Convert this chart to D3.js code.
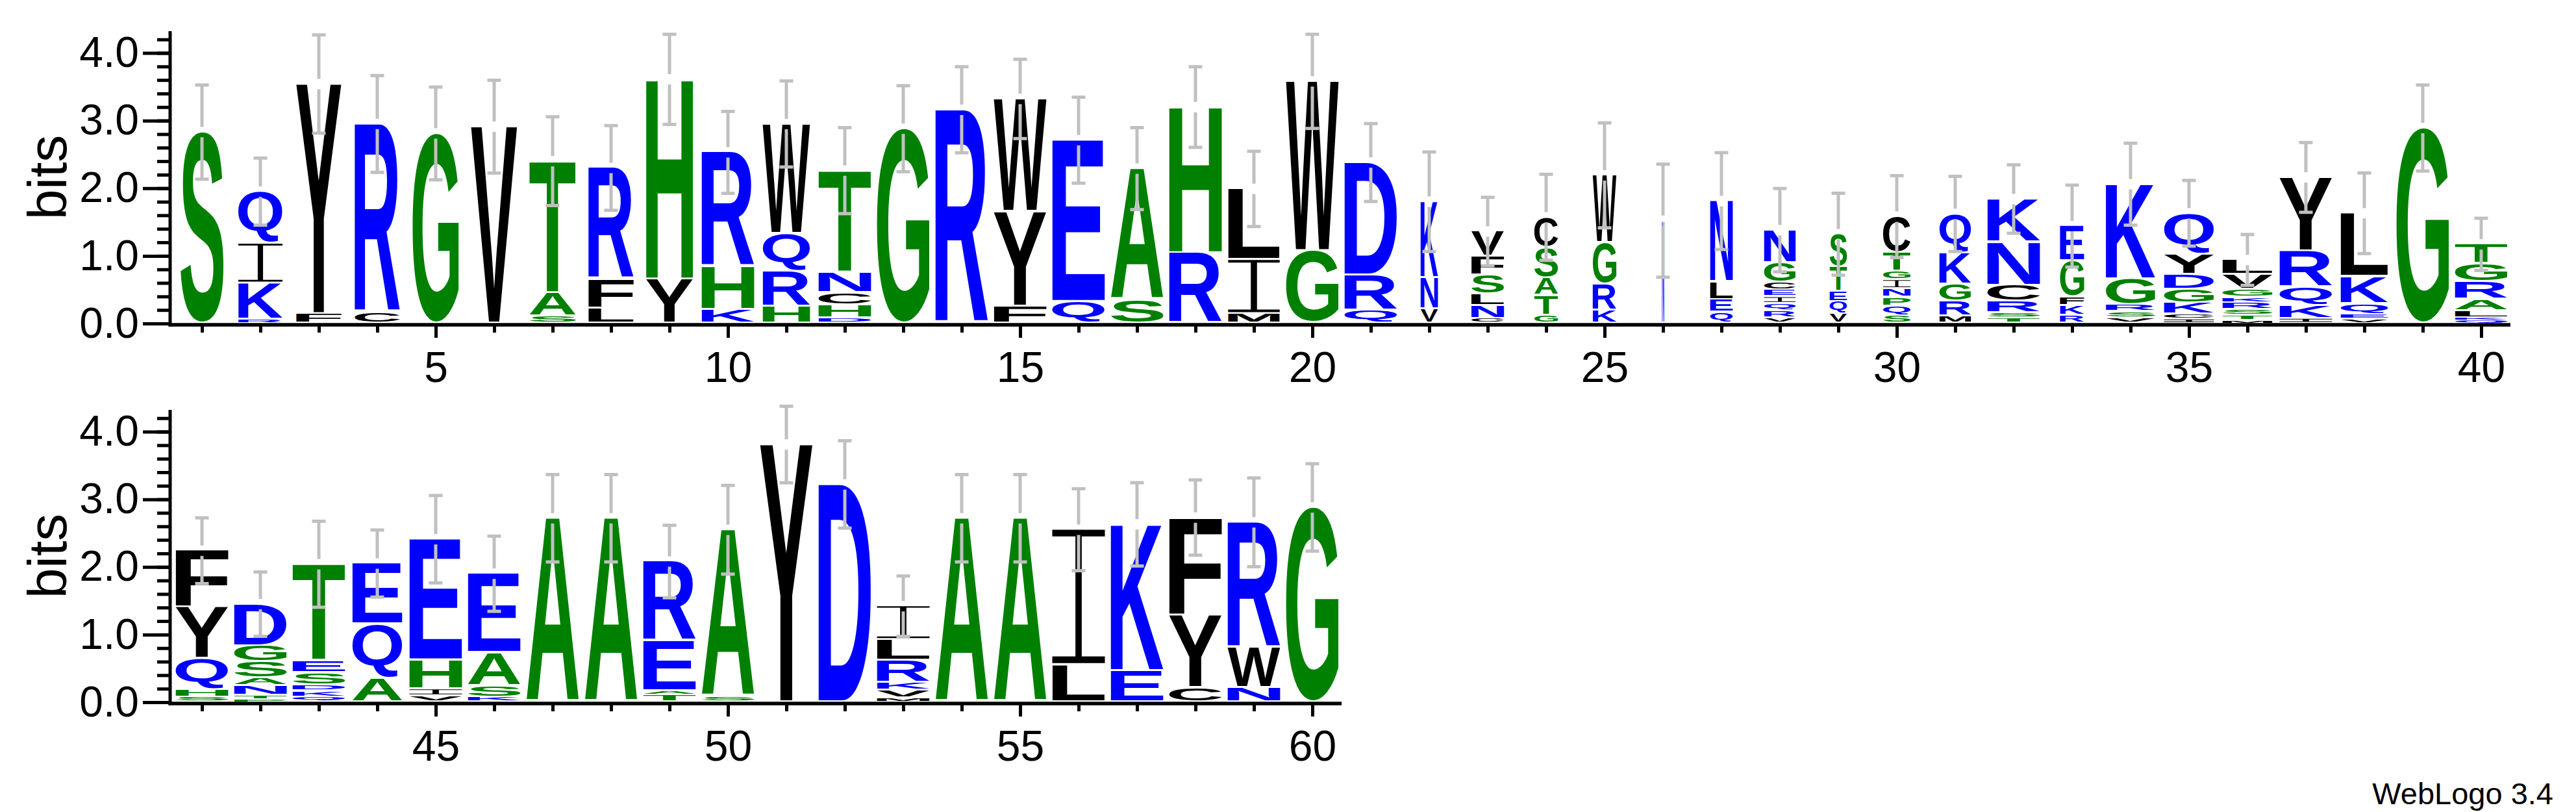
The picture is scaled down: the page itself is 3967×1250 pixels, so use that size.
<!DOCTYPE html>
<html>
<head>
<meta charset="utf-8">
<script src="https://cdn.jsdelivr.net/npm/d3@7"></script>
<style>
  body { margin: 0; background: #fff; }
</style>
</head>
<body>
<script>
// residues in each column, bottom to top
const columnLetters = [
  'S', 'RKIQ', 'FY', 'CR', 'G', 'V', 'SAT', 'LFR', 'YH', 'KHR',
  'HRQW', 'DHCNT', 'G', 'R', 'FYW', 'QE', 'SA', 'RH', 'MIL', 'GW',
  'QRD', 'VNK', 'CNLSFV', 'GTASC', 'KRGW', 'N', 'QELN', 'VRQIECGN', 'VQETS', 'SQPNIGTC',
  'MRGKQ', 'TSRCNK', 'RKFGE', 'VSRGK', 'ICKGDYQ', 'MTSRKGVL', 'IKQRY', 'VEQKL', 'G', 'QKLARGT',
  'SHQYF', 'PTNASGD', 'QKDSET', 'AQE', 'VIHE', 'KSAE', 'A', 'A', 'TAER', 'SA',
  'Y', 'D', 'MVKRLI', 'A', 'A', 'LI', 'EK', 'CYF', 'NWR', 'G',
];

// bits of each residue, same order
const columnBits = [
  [2.83], [0.06, 0.53, 0.59, 0.77], [0.14, 3.4], [0.16, 2.79], [2.81],
  [2.91], [0.1, 0.35, 1.95], [0.22, 0.43, 1.65], [0.65, 2.96], [0.2, 0.63, 1.7],
  [0.25, 0.52, 0.56, 1.62], [0.08, 0.19, 0.18, 0.3, 1.51], [2.88], [3.16], [0.25, 1.4, 1.67],
  [0.32, 2.39], [0.35, 1.94], [1.04, 2.16], [0.14, 0.8, 1.05], [1.07, 2.51],
  [0.19, 0.52, 1.67], [0.21, 0.46, 1.13], [0.07, 0.19, 0.17, 0.28, 0.28, 0.37],
  [0.12, 0.29, 0.26, 0.45, 0.45], [0.19, 0.39, 0.61, 1.0],
  [1.52], [0.16, 0.19, 0.26, 1.2], [0.08, 0.1, 0.11, 0.1, 0.1, 0.11, 0.29, 0.49],
  [0.14, 0.18, 0.15, 0.36, 0.49], [0.11, 0.14, 0.13, 0.13, 0.13, 0.13, 0.27, 0.54],
  [0.1, 0.22, 0.26, 0.46, 0.58], [0.08, 0.07, 0.17, 0.24, 0.64, 0.64],
  [0.12, 0.14, 0.13, 0.53, 0.52], [0.08, 0.09, 0.1, 0.38, 1.41],
  [0.06, 0.07, 0.17, 0.2, 0.22, 0.3, 0.61], [0.04, 0.07, 0.09, 0.1, 0.08, 0.12, 0.22, 0.22],
  [0.07, 0.19, 0.27, 0.54, 1.09], [0.06, 0.07, 0.16, 0.4, 0.94], [2.89],
  [0.04, 0.04, 0.1, 0.17, 0.26, 0.27, 0.29],
  [0.07, 0.11, 0.46, 0.76, 0.84], [0.04, 0.06, 0.14, 0.11, 0.24, 0.24, 0.62],
  [0.07, 0.09, 0.09, 0.18, 0.18, 1.43], [0.35, 0.8, 0.9], [0.09, 0.1, 0.43, 1.79],
  [0.07, 0.17, 0.49, 1.17], [2.72], [2.72], [0.1, 0.06, 0.74, 1.18], [0.08, 2.47],
  [3.81], [3.22], [0.06, 0.11, 0.12, 0.32, 0.31, 0.5], [2.72], [2.72],
  [0.55, 2.0], [0.46, 2.17], [0.21, 1.08, 1.44], [0.21, 0.59, 1.86], [2.88],
];

// half length of the error bar, bits
const errorBits = [
  0.72, 0.52, 0.75, 0.74, 0.71, 0.71, 0.68, 0.65, 0.69, 0.63,
  0.66, 0.66, 0.66, 0.66, 0.61, 0.66, 0.63, 0.62, 0.58, 0.72,
  0.6, 0.76, 0.53, 0.66, 0.8, 0.86, 0.74, 0.64, 0.63, 0.63,
  0.58, 0.53, 0.63, 0.63, 0.51, 0.4, 0.54, 0.62, 0.66, 0.41,
  0.51, 0.5, 0.66, 0.52, 0.67, 0.58, 0.67, 0.67, 0.56, 0.68,
  0.59, 0.67, 0.47, 0.67, 0.67, 0.63, 0.64, 0.58, 0.68, 0.67,
];

// fraction of sequences present in the column (stack width)
const occupancy = [
  0.82, 0.84, 0.86, 0.86, 0.88, 0.88, 0.88, 0.86, 0.89, 1,
  0.9, 1, 1, 1, 1, 1, 1, 1, 0.98, 1,
  1, 0.33, 0.62, 0.45, 0.45, 0.04, 0.43, 0.6, 0.33, 0.52,
  0.6, 1, 0.46, 0.94, 0.95, 0.95, 1, 0.9, 1, 1,
  1, 1, 1, 0.95, 1, 1, 1, 1, 1, 1,
  1, 1, 1, 1, 1, 1, 1, 1, 1, 1,
];

const xTickLabels = [5, 10, 15, 20, 25, 30, 35, 40, 45, 50, 55, 60];
const yTickLabels = [0, 1, 2, 3, 4];
const hydrophilic = 'RKDENQ';
const neutral = 'SGHTAP';
const hydrophobic = 'YVMCLFIW';

const WIDTH = 3967;
const HEIGHT = 1250;
const FONT = "'Liberation Sans', Arial, Helvetica, sans-serif";
const MAX_BITS = Math.log2(20);
const PLOT_LEFT = 266;
const PLOT_RIGHT = 3866;
const PER_ROW = 40;
const PLOT_H = 450;
const GLYPH_W = 81;
const AXIS_X = 262;

const color = d3
  .scaleOrdinal()
  .domain([...hydrophilic, ...neutral, ...hydrophobic])
  .range([
    ...Array.from(hydrophilic, () => '#0000ff'),
    ...Array.from(neutral, () => '#008000'),
    ...Array.from(hydrophobic, () => '#000000'),
  ]);

// measure ink box of glyphs so each letter fills its box exactly
const ctx = document.createElement('canvas').getContext('2d');
ctx.font = `bold 200px ${FONT}`;
const inkCache = {};
function ink(ch) {
  if (!inkCache[ch]) {
    const m = ctx.measureText(ch);
    inkCache[ch] = {
      l: -m.actualBoundingBoxLeft,
      r: m.actualBoundingBoxRight,
      t: -m.actualBoundingBoxAscent,
      b: m.actualBoundingBoxDescent,
    };
  }
  return inkCache[ch];
}

// the logo font draws I with serifs, so it gets its own outline
function serifI(d) {
  const t = Math.max(1, d.h * 0.05);
  const s = d.w * 0.12;
  const side = (d.w - s) / 2;
  const mid = Math.max(0, d.h - 2 * t);
  return (
    `M${d.x0},${d.y0}h${d.w}v${t}h${-side}v${mid}h${side}v${t}h${-d.w}` +
    `v${-t}h${side}v${-mid}h${-side}z`
  );
}

const svg = d3
  .select('body')
  .append('svg')
  .attr('width', WIDTH)
  .attr('height', HEIGHT)
  .attr('font-family', FONT);

svg.append('rect').attr('width', WIDTH).attr('height', HEIGHT).attr('fill', '#fff');

const rows = [
  { first: 1, last: 40, base: 498 },
  { first: 41, last: 60, base: 1081 },
];

rows.forEach((row) => {
  const x = d3
    .scaleLinear()
    .domain([row.first - 0.5, row.first - 0.5 + PER_ROW])
    .range([PLOT_LEFT, PLOT_RIGHT]);
  const y = d3.scaleLinear().domain([0, MAX_BITS]).range([row.base, row.base - PLOT_H]);
  const cols = d3.range(row.first, row.last + 1);
  const g = svg.append('g');

  // glyph records
  const glyphs = [];
  const bars = [];
  cols.forEach((p) => {
    const i = p - 1;
    const w = GLYPH_W * occupancy[i];
    let cum = 0;
    columnLetters[i].split('').forEach((ch, k) => {
      const yb = y(cum);
      cum += columnBits[i][k];
      const yt = y(cum);
      const gap = Math.min(3, (yb - yt) * 0.35);
      glyphs.push({ ch, x0: x(p) - w / 2, y0: yt, w, h: Math.max(0.5, yb - yt - gap) });
    });
    bars.push({ cx: x(p), top: y(cum), lo: y(cum - errorBits[i]), hi: y(cum + errorBits[i]) });
  });

  const logo = g.append('g');
  logo
    .selectAll('text')
    .data(glyphs.filter((d) => d.ch !== 'I'))
    .join('text')
    .attr('font-size', 200)
    .attr('font-weight', 'bold')
    .attr('fill', (d) => color(d.ch))
    .attr('transform', (d) => {
      const b = ink(d.ch);
      const sx = d.w / (b.r - b.l);
      const sy = d.h / (b.b - b.t);
      return `translate(${d.x0},${d.y0}) scale(${sx},${sy}) translate(${-b.l},${-b.t})`;
    })
    .text((d) => d.ch);
  logo
    .selectAll('path')
    .data(glyphs.filter((d) => d.ch === 'I'))
    .join('path')
    .attr('fill', (d) => color(d.ch))
    .attr('d', serifI);

  // error bars, broken around the stack top
  const eb = g.append('g').attr('stroke', '#c0c0c0').attr('stroke-width', 5);
  const segs = [];
  bars.forEach((d) => {
    segs.push({ x: d.cx, y1: d.hi + 2.5, y2: d.top - 8 });
    segs.push({ x: d.cx, y1: d.top + 8, y2: d.lo - 2.5 });
  });
  eb.selectAll('line.seg')
    .data(segs.filter((s) => s.y2 > s.y1))
    .join('line')
    .attr('class', 'seg')
    .attr('x1', (d) => d.x)
    .attr('x2', (d) => d.x)
    .attr('y1', (d) => d.y1)
    .attr('y2', (d) => d.y2);
  eb.selectAll('line.cap')
    .data(bars.flatMap((d) => [{ x: d.cx, y: d.hi + 2.5 }, { x: d.cx, y: d.lo - 2.5 }]))
    .join('line')
    .attr('class', 'cap')
    .attr('x1', (d) => d.x - 10.5)
    .attr('x2', (d) => d.x + 10.5)
    .attr('y1', (d) => d.y)
    .attr('y2', (d) => d.y);

  // y axis
  const yMinor = d3
    .axisLeft(y)
    .tickValues(d3.range(0, 22).map((v) => v / 5))
    .tickSize(20)
    .tickSizeOuter(0)
    .tickFormat('');
  const yMajor = d3
    .axisLeft(y)
    .tickValues(yTickLabels)
    .tickSize(42)
    .tickSizeOuter(0)
    .tickPadding(6)
    .tickFormat(d3.format('.1f'));
  [yMinor, yMajor].forEach((ax) => {
    const a = g
      .append('g')
      .attr('transform', `translate(${AXIS_X},0)`)
      .call(ax)
      .attr('font-size', 66)
      .attr('font-family', FONT);
    a.selectAll('line').attr('stroke', '#000').attr('stroke-width', 5);
    a.select('.domain').remove();
    a.selectAll('text').attr('fill', '#000');
  });
  g.append('line')
    .attr('x1', AXIS_X)
    .attr('x2', AXIS_X)
    .attr('y1', y(MAX_BITS))
    .attr('y2', row.base + 4.5)
    .attr('stroke', '#000')
    .attr('stroke-width', 5);

  // x axis
  const axisY = row.base + 2;
  const xMinor = d3.axisBottom(x).tickValues(cols).tickSize(12).tickSizeOuter(0).tickFormat('');
  const xMajor = d3
    .axisBottom(x)
    .tickValues(xTickLabels.filter((v) => v >= row.first && v <= row.last))
    .tickSize(20)
    .tickSizeOuter(0)
    .tickPadding(21)
    .tickFormat(d3.format('d'));
  [xMinor, xMajor].forEach((ax) => {
    const a = g
      .append('g')
      .attr('transform', `translate(0,${axisY})`)
      .call(ax)
      .attr('font-size', 66)
      .attr('font-family', FONT);
    a.selectAll('line').attr('stroke', '#000').attr('stroke-width', 5);
    a.select('.domain').remove();
    a.selectAll('text').attr('fill', '#000');
  });
  g.append('line')
    .attr('x1', AXIS_X - 2.5)
    .attr('x2', x(row.last + 0.5))
    .attr('y1', axisY)
    .attr('y2', axisY)
    .attr('stroke', '#000')
    .attr('stroke-width', 5.5);

  g.append('text')
    .attr('transform', `translate(102,${(y(0) + y(MAX_BITS)) / 2}) rotate(-90)`)
    .attr('text-anchor', 'middle')
    .attr('font-size', 84)
    .attr('fill', '#000')
    .text('bits');
});

svg
  .append('text')
  .attr('x', 3932)
  .attr('y', 1238)
  .attr('text-anchor', 'end')
  .attr('font-size', 47)
  .attr('fill', '#000')
  .text('WebLogo 3.4');
</script>
</body>
</html>
